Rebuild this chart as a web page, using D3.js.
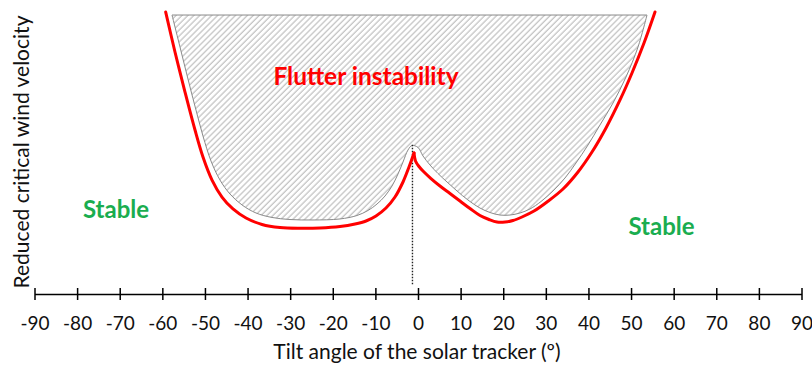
<!DOCTYPE html>
<html>
<head>
<meta charset="utf-8">
<script src="https://cdn.jsdelivr.net/npm/d3@7"></script>
<style>
  html, body { margin: 0; padding: 0; background: #fff; }
  svg { display: block; font-family: Lato, "Noto Sans", sans-serif; }
</style>
</head>
<body>
<svg id="chart" width="812" height="365"></svg>
<script>
// Tilt angle ticks (degrees)
const tickValues = [-90, -80, -70, -60, -50, -40, -30, -20, -10, 0, 10, 20, 30, 40, 50, 60, 70, 80, 90];

// Flutter boundary (red): tilt angle vs reduced critical wind velocity, split at the cusp
const flutterLeftAngle = [-59.21, -57.03, -54.68, -52.33, -50.46, -48.34, -46.00, -43.42, -40.36, -36.61, -32.39, -27.69, -23.00, -18.31, -14.78, -12.20, -9.86, -7.51, -5.40, -3.52, -2.11, -0.94];
const flutterLeftVel   = [3.021, 2.593, 2.164, 1.757, 1.468, 1.221, 1.039, 0.911, 0.814, 0.745, 0.712, 0.704, 0.707, 0.723, 0.750, 0.782, 0.836, 0.921, 1.039, 1.200, 1.361, 1.511];
const flutterRightAngle = [-0.94, -0.59, 0.23, 1.29, 3.05, 5.16, 7.51, 9.86, 12.20, 14.55, 16.66, 18.54, 20.42, 22.29, 24.41, 27.22, 30.27, 34.03, 37.55, 40.83, 44.12, 47.41, 50.22, 53.04, 55.62];
const flutterRightVel   = [1.511, 1.425, 1.366, 1.312, 1.237, 1.157, 1.077, 0.996, 0.916, 0.841, 0.798, 0.771, 0.771, 0.787, 0.825, 0.889, 0.986, 1.125, 1.307, 1.521, 1.779, 2.079, 2.368, 2.689, 3.021];

// Unstable region outline (hatched), traced from top-left along the lower edge to top-right
const regionAngle = [-57.73, -56.32, -54.92, -53.51, -52.10, -50.46, -48.58, -46.47, -44.12, -41.30, -38.02, -34.26, -30.04, -24.64, -18.31, -14.32, -11.73, -9.62, -7.74, -6.10, -4.69, -3.52, -2.35, -1.41, 0.00, 1.17, 2.82, 4.69, 6.81, 9.15, 11.73, 14.55, 16.90, 19.24, 21.59, 23.94, 26.28, 28.87, 31.68, 34.50, 37.08, 39.89, 42.71, 45.76, 48.81, 51.63, 53.74];
const regionVel   = [2.989, 2.732, 2.475, 2.218, 1.971, 1.693, 1.425, 1.221, 1.071, 0.954, 0.868, 0.820, 0.798, 0.793, 0.804, 0.841, 0.895, 0.964, 1.050, 1.157, 1.286, 1.414, 1.543, 1.591, 1.570, 1.479, 1.382, 1.291, 1.200, 1.104, 1.007, 0.921, 0.873, 0.846, 0.846, 0.868, 0.911, 0.991, 1.104, 1.243, 1.404, 1.596, 1.811, 2.046, 2.325, 2.646, 2.989];

// Reference line at the cusp
const cuspAngle = -1.3;
const cuspVelRange = [0.1, 1.6];

const svg = d3.select("#chart");

const x = d3.scaleLinear().domain([-90, 90]).range([34.5, 801.5]);
const y = d3.scaleLinear().domain([0, 3]).range([294, 14]);

// Hatch pattern
const defs = svg.append("defs");
const pat = defs.append("pattern")
  .attr("id", "hatch")
  .attr("patternUnits", "userSpaceOnUse")
  .attr("width", 4.2).attr("height", 4.2)
  .attr("patternTransform", "rotate(45)");
pat.append("line")
  .attr("x1", 1).attr("y1", 0).attr("x2", 1).attr("y2", 4.2)
  .attr("stroke", "#c4c4c4").attr("stroke-width", 1.3);

const zip = (a, b) => a.map((d, i) => [d, b[i]]);

// Hatched instability region
const regionLine = d3.line().x(d => x(d[0])).y(d => y(d[1])).curve(d3.curveCatmullRom.alpha(0.5));
svg.append("path")
  .attr("d", regionLine(zip(regionAngle, regionVel)) + "Z")
  .attr("fill", "url(#hatch)")
  .attr("stroke", "#8a8a8a")
  .attr("stroke-width", 1);

// Cusp reference line
svg.append("line")
  .attr("x1", x(cuspAngle)).attr("x2", x(cuspAngle))
  .attr("y1", y(cuspVelRange[1])).attr("y2", y(cuspVelRange[0]))
  .attr("stroke", "#222").attr("stroke-width", 1.4)
  .attr("stroke-dasharray", "1.5,1.5");

// Flutter boundary curves
const redLine = d3.line().x(d => x(d[0])).y(d => y(d[1])).curve(d3.curveCatmullRom.alpha(0.5));
[zip(flutterLeftAngle, flutterLeftVel), zip(flutterRightAngle, flutterRightVel)].forEach(seg => {
  svg.append("path")
    .attr("d", redLine(seg))
    .attr("fill", "none")
    .attr("stroke", "#ff0000")
    .attr("stroke-width", 3)
    .attr("stroke-linejoin", "round")
    .attr("stroke-linecap", "round");
});

// X axis
const axis = d3.axisBottom(x).tickValues(tickValues).tickFormat(d => String(d)).tickSize(0).tickPadding(0);
const gx = svg.append("g").attr("transform", `translate(0,${y(0)})`).call(axis);
gx.select(".domain").attr("stroke", "#000").attr("stroke-width", 1.5);
gx.selectAll(".tick line").remove();
gx.selectAll(".tick").append("line")
  .attr("y1", -6).attr("y2", 6)
  .attr("stroke", "#000").attr("stroke-width", 1.5);
gx.selectAll(".tick text")
  .attr("y", 36)
  .attr("dy", null)
  .attr("fill", "#111")
  .style("font-family", "Lato, 'Noto Sans', sans-serif")
  .style("font-size", "19px");

// Axis titles
svg.append("text")
  .attr("x", 417).attr("y", 359)
  .attr("text-anchor", "middle")
  .attr("fill", "#111")
  .style("font-size", "21px")
  .text("Tilt angle of the solar tracker (º)");

svg.append("text")
  .attr("transform", "translate(28.5,152) rotate(-90)")
  .attr("text-anchor", "middle")
  .attr("fill", "#111")
  .style("font-size", "21px")
  .text("Reduced critical wind velocity");

// Region labels
svg.append("text")
  .attr("x", 366).attr("y", 85)
  .attr("text-anchor", "middle")
  .attr("fill", "#ff0000")
  .style("font-size", "24.5px").style("font-weight", "bold")
  .text("Flutter instability");

svg.append("text")
  .attr("x", 116).attr("y", 218)
  .attr("text-anchor", "middle")
  .attr("fill", "#1aad4f")
  .style("font-size", "24px").style("font-weight", "bold")
  .text("Stable");

svg.append("text")
  .attr("x", 661.5).attr("y", 235)
  .attr("text-anchor", "middle")
  .attr("fill", "#1aad4f")
  .style("font-size", "24px").style("font-weight", "bold")
  .text("Stable");
</script>
</body>
</html>
